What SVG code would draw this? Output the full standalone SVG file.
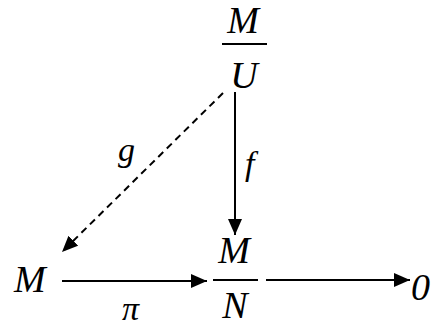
<svg xmlns="http://www.w3.org/2000/svg" width="437" height="327" viewBox="0 0 437 327">
<style>
text{font-family:"Liberation Serif","Times New Roman",serif;font-style:italic;fill:#000}
.big{font-size:38px}
.lbl{font-size:34px}
.ln{stroke:#000;stroke-width:2;fill:none}
.dash{stroke-dasharray:7,5}
</style>
<defs>
<marker id="ah" viewBox="0 0 16 14" refX="16" refY="7" markerWidth="16" markerHeight="14" markerUnits="userSpaceOnUse" orient="auto">
<path d="M0,0 L16,7 L0,14 Z" fill="#000"/>
</marker>
</defs>
<rect width="437" height="327" fill="#fff"/>
<g id="connectors">
<line class="ln" x1="235" y1="92" x2="235" y2="235" marker-end="url(#ah)"/>
<line class="ln dash" x1="223" y1="93" x2="62" y2="252" marker-end="url(#ah)"/>
<line class="ln" x1="62" y1="281" x2="207" y2="281" marker-end="url(#ah)"/>
<line class="ln" x1="266" y1="280" x2="410" y2="280" marker-end="url(#ah)"/>
<text class="lbl" x="118" y="161">g</text>
<text class="lbl" x="245" y="175">f</text>
<text class="lbl" x="122" y="320" font-size="32">π</text>
</g>
<g id="n-MU">
<text class="big" x="243" y="33" text-anchor="middle" font-size="36">M</text>
<line class="ln" x1="222" y1="44" x2="267" y2="44"/>
<text class="big" x="244" y="88" text-anchor="middle">U</text>
</g>
<g id="n-MN">
<text class="big" x="234" y="263" text-anchor="middle">M</text>
<line class="ln" x1="213" y1="280" x2="258" y2="280"/>
<text class="big" x="235" y="318" text-anchor="middle">N</text>
</g>
<g id="n-M">
<text class="big" x="14" y="292">M</text>
</g>
<g id="n-0">
<text class="big" x="411" y="300">0</text>
</g>
</svg>
